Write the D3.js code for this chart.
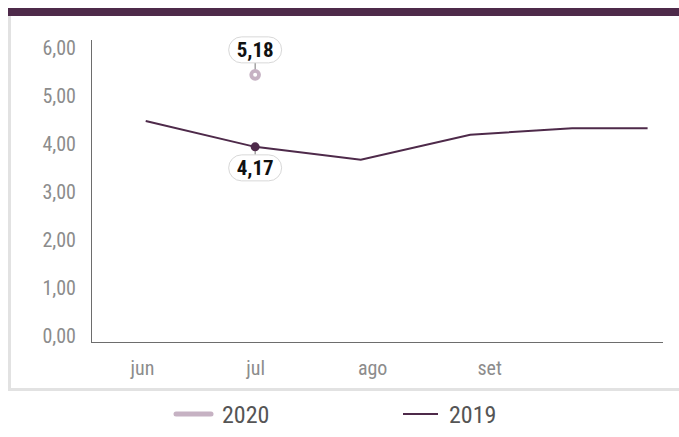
<!DOCTYPE html>
<html><head><meta charset="utf-8">
<script src="https://cdn.jsdelivr.net/npm/d3@7"></script>
<style>
body{margin:0;background:#fff}
svg{display:block}
text{font-family:"Liberation Sans Narrow","Roboto Condensed","Roboto",sans-serif}
</style>
</head><body>
<svg id="chart" width="679" height="437"></svg>
<script>
// ---- data ----
const monthLabels = ["jun","jul","ago","set"];
const monthDates = ["2019-06-01","2019-07-01","2019-08-01","2019-09-01"];
const dates2019 = ["2019-06-02","2019-07-01","2019-07-29","2019-08-27","2019-09-23","2019-10-13"];
const values2019 = [4.47, 3.93, 3.66, 4.18, 4.32, 4.32];
const dates2020 = ["2019-07-01"];
const values2020 = [5.43];
const callout2019 = ["", "4,17", "", "", "", ""];
const callout2020 = ["5,18"];
const yTicks = [0,1,2,3,4,5,6];
const seriesNames = ["2020","2019"];

// ---- layout ----
const svg = d3.select("#chart");
const W = 679, H = 437;
const dark = "#4e2a4a", light = "#c6b2c3";
const parse = d3.timeParse("%Y-%m-%d");
const fmt = d3.format(".2f");
const comma = v => fmt(v).replace(".", ",");

// panel
svg.append("rect").attr("x",8).attr("y",8).attr("width",W-8).attr("height",8).attr("fill",dark);
svg.append("line").attr("x1",9.5).attr("x2",9.5).attr("y1",16).attr("y2",391).attr("stroke","#e2e2e2").attr("stroke-width",3);
svg.append("line").attr("x1",8).attr("x2",W).attr("y1",389.5).attr("y2",389.5).attr("stroke","#e2e2e2").attr("stroke-width",3);

const x = d3.scaleTime()
  .domain([new Date(2019,4,18,12), new Date(2019,9,17,2)])
  .range([91, 663]);
const y = d3.scaleLinear().domain([0,6]).range([335.5, 47.5]);
const plotTop = 40, plotBottom = 342;

// axes lines
svg.append("line").attr("x1",91.5).attr("x2",91.5).attr("y1",plotTop).attr("y2",plotBottom).attr("stroke","#6d6d6d");
svg.append("line").attr("x1",91).attr("x2",663).attr("y1",plotBottom+0.5).attr("y2",plotBottom+0.5).attr("stroke","#6d6d6d");

// y axis
const yAxis = d3.axisLeft(y).tickValues(yTicks).tickSize(0).tickPadding(0).tickFormat(comma);
const gy = svg.append("g").attr("transform","translate(76,0)").call(yAxis);
gy.select(".domain").remove();
gy.selectAll("text").attr("fill","#8c8c8c").style("font-size","20px").attr("dy","0.36em");

// x axis
const xAxis = d3.axisBottom(x).tickValues(monthDates.map(parse)).tickSize(0).tickPadding(0)
  .tickFormat((d,i)=>monthLabels[i]);
const gx = svg.append("g").attr("transform","translate(0,361)").call(xAxis);
gx.select(".domain").remove();
gx.selectAll("text").attr("fill","#8c8c8c").style("font-size","20px").attr("dy","0.71em");

// 2019 line
const d19 = dates2019.map((d,i)=>({x:parse(d), v:values2019[i], label:callout2019[i]}));
const d20 = dates2020.map((d,i)=>({x:parse(d), v:values2020[i], label:callout2020[i]}));
const line = d3.line().x(d=>x(d.x)).y(d=>y(d.v));
svg.append("path").datum(d19).attr("d",line).attr("fill","none").attr("stroke",dark).attr("stroke-width",2);

// callout helper
function callout(d, above, color, ring){
  const cx = x(d.x), cy = y(d.v);
  const pillH = 26, pillW = 53;
  const pcy = above ? cy - 25 : cy + 21;
  svg.append("line").attr("x1",cx).attr("x2",cx)
    .attr("y1", cy).attr("y2", above ? pcy + pillH/2 : pcy - pillH/2)
    .attr("stroke","#777").attr("stroke-width",1);
  svg.append("rect").attr("x",cx-pillW/2).attr("y",pcy-pillH/2).attr("width",pillW).attr("height",pillH)
    .attr("rx",13).attr("fill","#fff").attr("stroke","#d8d8d8");
  svg.append("text").attr("x",cx).attr("y",pcy).attr("dy","0.36em").attr("text-anchor","middle")
    .style("font-size","21px").style("font-weight","bold").attr("fill","#111").text(d.label);
  if (ring){
    svg.append("circle").attr("cx",cx).attr("cy",cy).attr("r",3.9).attr("fill","#fff").attr("stroke",color).attr("stroke-width",3.8);
  } else {
    svg.append("circle").attr("cx",cx).attr("cy",cy).attr("r",4.5).attr("fill",color);
  }
}
d19.filter(d=>d.label).forEach(d=>callout(d,false,dark,false));
d20.filter(d=>d.label).forEach(d=>callout(d,true,light,true));

// legend
const leg = [{name:seriesNames[0], color:light, w:5, x:176}, {name:seriesNames[1], color:dark, w:2, x:403}];
leg.forEach(l=>{
  svg.append("line").attr("x1",l.x).attr("x2",l.x+35).attr("y1",414).attr("y2",414)
    .attr("stroke",l.color).attr("stroke-width",l.w).attr("stroke-linecap", l.w>3?"round":"butt");
  svg.append("text").attr("x",l.x+46).attr("y",414).attr("dy","0.36em").attr("fill","#555")
    .style("font-size","24px").text(l.name);
});
</script>
</body></html>
